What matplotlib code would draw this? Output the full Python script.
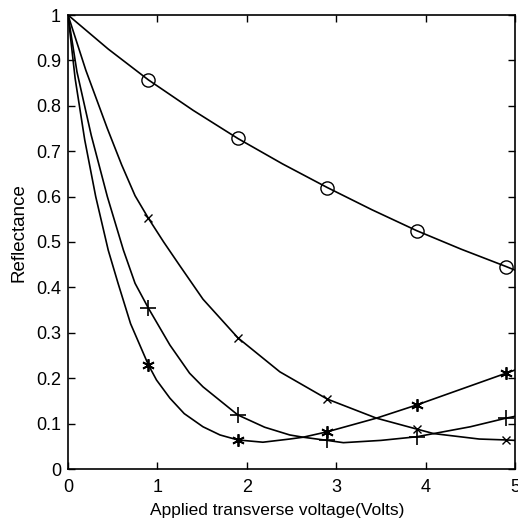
import matplotlib
matplotlib.use("Agg")
import matplotlib.pyplot as plt

# Marker positions (measured points)
marker_x = [0.9, 1.9, 2.9, 3.9, 4.9]
circle_y = [0.857, 0.728, 0.620, 0.525, 0.446]
cross_y = [0.552, 0.289, 0.154, 0.088, 0.064]
plus_y = [0.354, 0.119, 0.064, 0.071, 0.112]
star_y = [0.229, 0.064, 0.082, 0.141, 0.211]

# Curve traces
circle_line_x = [0, 0.45, 0.9, 1.4, 1.9, 2.4, 2.9, 3.4, 3.9, 4.4, 4.9, 5.0]
circle_line_y = [1.0, 0.925, 0.857, 0.790, 0.728, 0.672, 0.620, 0.571, 0.525, 0.484, 0.446, 0.438]

cross_line_x = [0, 0.2, 0.44, 0.6, 0.75, 0.9, 1.07, 1.25, 1.51, 1.9, 2.37, 2.9, 3.45, 3.9, 4.09, 4.6, 4.9, 5.0]
cross_line_y = [1.0, 0.878, 0.750, 0.670, 0.602, 0.552, 0.500, 0.448, 0.374, 0.289, 0.214, 0.154, 0.112, 0.088, 0.078, 0.066, 0.064, 0.063]

plus_line_x = [0, 0.1, 0.26, 0.44, 0.62, 0.75, 0.9, 1.14, 1.36, 1.51, 1.9, 2.2, 2.48, 2.63, 2.9, 3.08, 3.5, 3.9, 4.09, 4.5, 4.9, 5.0]
plus_line_y = [1.0, 0.875, 0.735, 0.600, 0.482, 0.409, 0.354, 0.273, 0.211, 0.181, 0.119, 0.092, 0.075, 0.070, 0.063, 0.058, 0.063, 0.071, 0.078, 0.093, 0.112, 0.116]

star_line_x = [0, 0.08, 0.187, 0.31, 0.45, 0.56, 0.7, 0.9, 0.99, 1.14, 1.3, 1.51, 1.7, 1.9, 2.18, 2.48, 2.63, 2.9, 3.45, 3.9, 4.4, 4.9, 5.0]
star_line_y = [1.0, 0.86, 0.725, 0.600, 0.482, 0.409, 0.320, 0.229, 0.196, 0.156, 0.122, 0.093, 0.075, 0.064, 0.059, 0.066, 0.070, 0.082, 0.112, 0.141, 0.176, 0.211, 0.218]

x_ticks = [0, 1, 2, 3, 4, 5]
x_ticklabels = ["0", "1", "2", "3", "4", "5"]
y_ticks = [0, 0.1, 0.2, 0.3, 0.4, 0.5, 0.6, 0.7, 0.8, 0.9, 1.0]
y_ticklabels = ["0", "0.1", "0.2", "0.3", "0.4", "0.5", "0.6", "0.7", "0.8", "0.9", "1"]

plt.rcParams['font.family'] = ['Liberation Sans', 'DejaVu Sans']

fig = plt.figure(figsize=(5.18, 5.25), dpi=100)
ax = fig.add_axes([68 / 518, 56 / 525, 447 / 518, 454 / 525])

lw = 1.2
ax.plot(circle_line_x, circle_line_y, color='black', lw=lw)
ax.plot(cross_line_x, cross_line_y, color='black', lw=lw)
ax.plot(plus_line_x, plus_line_y, color='black', lw=lw)
ax.plot(star_line_x, star_line_y, color='black', lw=lw)

ax.plot(marker_x, circle_y, linestyle='none', marker='o', markersize=9.5,
        markerfacecolor='none', markeredgecolor='black', markeredgewidth=1.0)
ax.plot(marker_x, cross_y, linestyle='none', marker='x', markersize=6,
        color='black', markeredgewidth=1.0)
ax.plot(marker_x, plus_y, linestyle='none', marker='+', markersize=11,
        color='black', markeredgewidth=1.2)
ax.plot(marker_x, star_y, linestyle='none', marker=(6, 2, 0), markersize=9,
        color='black', markeredgewidth=1.3)

ax.set_xlim(0, 5)
ax.set_ylim(0, 1)
ax.set_xticks(x_ticks)
ax.set_xticklabels(x_ticklabels)
ax.set_yticks(y_ticks)
ax.set_yticklabels(y_ticklabels)
ax.tick_params(direction='in', top=True, right=True, length=5, width=1,
               labelsize=13)
ax.tick_params(axis='x', pad=7)
ax.tick_params(axis='y', pad=5)
for s in ax.spines.values():
    s.set_linewidth(1.2)

ax.set_xlabel("Applied transverse voltage(Volts)", fontsize=12.5)
ax.set_ylabel("Reflectance", fontsize=13.5)
ax.xaxis.set_label_coords(0.468, -0.075)
ax.yaxis.set_label_coords(-0.09, 0.52)

fig.savefig("out.png", dpi=100)
